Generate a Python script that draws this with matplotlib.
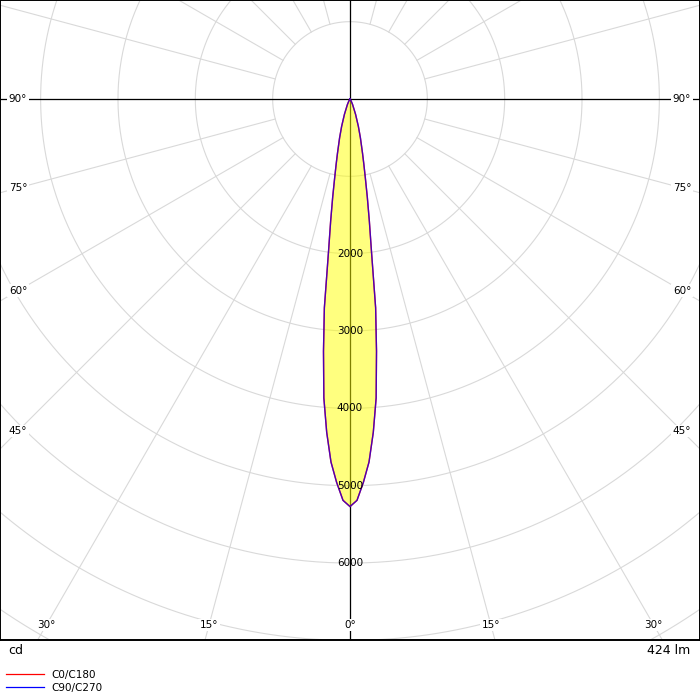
import numpy as np
import matplotlib
matplotlib.use("Agg")
import matplotlib.pyplot as plt
from matplotlib.lines import Line2D

plt.rcParams.update({
    "font.family": "DejaVu Sans",
    "font.size": 7.5,
})

GRID = "#d9d9d9"
RED = "#ff0000"
BLUE = "#0000ff"

# gamma angle (deg) and luminous intensity (cd)
gamma = [0, 1, 2, 3, 4, 5, 6, 7, 8, 9, 10, 11, 12, 13, 15, 17, 20, 25, 30, 40, 90]
c0_c180 = [5270, 5190, 4960, 4700, 4320, 3880, 3280, 2720, 2000, 1600, 1290,
           1040, 860, 720, 520, 370, 210, 80, 30, 0, 0]
c90_c270 = [5270, 5190, 4960, 4700, 4320, 3880, 3280, 2720, 2000, 1600, 1290,
            1040, 860, 720, 520, 370, 210, 80, 30, 0, 0]

rings = [1000, 2000, 3000, 4000, 5000, 6000, 7000, 8000, 9000]
ring_labels = [2000, 3000, 4000, 5000, 6000]
spoke_angles = np.arange(0, 360, 15)
angle_labels = [0, 15, 30, 45, 60, 75, 90]
flux_text = "424 lm"
unit_text = "cd"
legend_labels = ["C0/C180", "C90/C270"]

# ── geometry (cd units, y up, centre = luminaire) ───────────────────────────
X_HALF = 4525
Y_TOP, Y_BOT = 1280, -6995
PX = 1000 / 77.35  # cd per pixel


def mirror(g, i):
    g = np.asarray(g, float)
    i = np.asarray(i, float)
    ang = np.concatenate([-g[::-1], g[1:]])
    val = np.concatenate([i[::-1], i[1:]])
    a = np.radians(ang)
    return val * np.sin(a), -val * np.cos(a)


fig = plt.figure(figsize=(7, 7), dpi=100)
ax = fig.add_axes([0, 60 / 700, 1, 640 / 700])
ax.set_xlim(-X_HALF, X_HALF)
ax.set_ylim(Y_BOT, Y_TOP)
ax.set_aspect("equal", adjustable="box")
ax.set_xticks([])
ax.set_yticks([])
for sp in ax.spines.values():
    sp.set_linewidth(1.4)
    sp.set_color("black")

# grid rings and spokes
t = np.linspace(0, 2 * np.pi, 720)
for r in rings:
    ax.plot(r * np.cos(t), r * np.sin(t), color=GRID, lw=0.8, zorder=1)
for a in spoke_angles:
    ar = np.radians(a)
    ax.plot([1000 * np.sin(ar), 12000 * np.sin(ar)],
            [-1000 * np.cos(ar), -12000 * np.cos(ar)],
            color=GRID, lw=0.8, zorder=1)

ax.axhline(0, color="black", lw=0.9, zorder=2)
ax.axvline(0, color="black", lw=0.9, zorder=2)

# curves
x0, y0 = mirror(gamma, c0_c180)
x1, y1 = mirror(gamma, c90_c270)
ax.fill(x0, y0, color="#ffff00", alpha=0.5, lw=0, zorder=3)
ax.plot(x0, y0, color=RED, lw=1.0, zorder=4)
ax.plot(x1, y1, color=BLUE, lw=1.0, alpha=0.7, zorder=5)

# ring values
for v in ring_labels:
    ax.text(0, -v, str(v), ha="center", va="center", zorder=6)

# angle labels along the frame
xs = X_HALF - 18 * PX
yb = Y_BOT + 15 * PX
for a in angle_labels:
    ar = np.radians(a)
    sides = [-1, 1] if a else [1]
    for s in sides:
        dx, dy = np.sin(ar), np.cos(ar)
        d = min(xs / dx if dx > 1e-9 else 1e9, -yb / dy if dy > 1e-9 else 1e9)
        ax.text(s * d * dx, -d * dy, f"{a}°", ha="center", va="center",
                zorder=7,
                bbox=dict(facecolor="white", edgecolor="none", pad=1.0))

fig.text(8 / 700, 1 - 651 / 700, unit_text, ha="left", va="center", fontsize=9)
fig.text(690 / 700, 1 - 651 / 700, flux_text, ha="right", va="center", fontsize=9)

handles = [Line2D([], [], color=RED, lw=0.9), Line2D([], [], color=BLUE, lw=0.9)]
fig.legend(handles, legend_labels, loc="upper left",
           bbox_to_anchor=(6 / 700, 1 - 670 / 700), frameon=False,
           borderpad=0, borderaxespad=0, handlelength=3.6, handletextpad=0.8,
           labelspacing=0.25, fontsize=7.5)

fig.savefig("out.png", dpi=100, facecolor="white")
